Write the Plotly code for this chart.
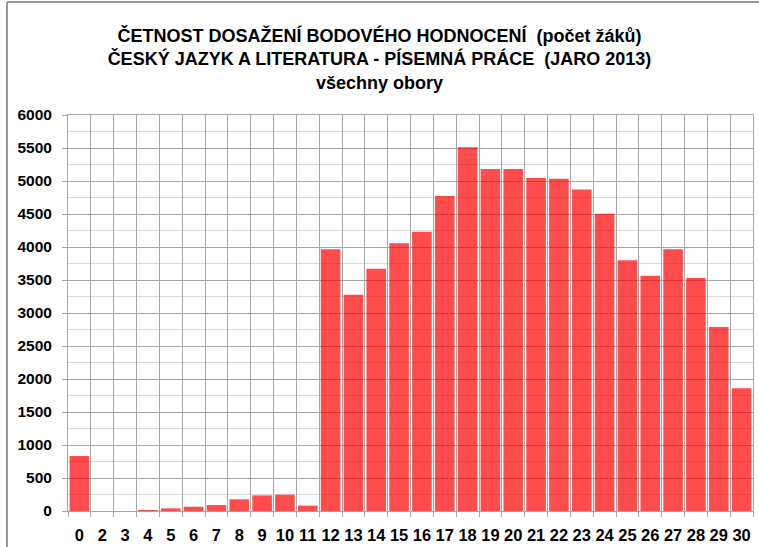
import plotly.graph_objects as go

# Score categories (score 1 is not listed) and number of pupils for each
scores = ["0", "2", "3", "4", "5", "6", "7", "8", "9", "10", "11", "12", "13", "14", "15",
          "16", "17", "18", "19", "20", "21", "22", "23", "24", "25", "26", "27", "28", "29", "30"]
pupils = [833, 0, 0, 15, 40, 65, 90, 177, 237, 247, 81, 3965, 3278, 3672, 4055,
          4232, 4773, 5510, 5182, 5182, 5045, 5035, 4873, 4505, 3798, 3566, 3965, 3530, 2788, 1859]

y_ticks = list(range(0, 6001, 500))

title_lines = [
    "ČETNOST DOSAŽENÍ BODOVÉHO HODNOCENÍ  (počet žáků)",
    "ČESKÝ JAZYK A LITERATURA - PÍSEMNÁ PRÁCE  (JARO 2013)",
    "všechny obory",
]

FONT = "Liberation Sans, Arial, sans-serif"

W, H = 759, 547
L, R, T, B = 68, 6, 115, 36
pw, ph = W - L - R, H - T - B

fig = go.Figure(
    go.Bar(
        x=scores,
        y=pupils,
        marker=dict(color="rgb(255,0,0)", opacity=0.7, line=dict(width=0)),
        hoverinfo="x+y",
    )
)

# outer chart frame (left and top edges)
def px_x(v):
    return (v - L) / pw

def px_y(v):
    return (H - B - v) / ph

frame = dict(color="#9a9a9a", width=2)
fig.add_shape(type="line", xref="paper", yref="paper",
              x0=px_x(7), x1=px_x(7), y0=px_y(2), y1=px_y(560), line=frame)
fig.add_shape(type="line", xref="paper", yref="paper",
              x0=px_x(7), x1=px_x(770), y0=px_y(2), y1=px_y(2), line=frame)

fig.update_layout(
    width=W,
    height=H,
    margin=dict(l=L, r=R, t=T, b=B, autoexpand=False),
    paper_bgcolor="white",
    plot_bgcolor="white",
    showlegend=False,
    bargap=0.14,
    font=dict(family=FONT, color="black"),
    title=dict(
        text="<b>" + "<br>".join(title_lines) + "</b>",
        x=0.5,
        xanchor="center",
        xref="container",
        yref="container",
        y=1 - 42 / H,
        yanchor="top",
        font=dict(size=18, family=FONT, color="black"),
    ),
    xaxis=dict(
        type="category",
        tickson="boundaries",
        tickvals=scores,
        ticktext=["<b>" + s + "</b>" for s in scores],
        tickangle=0,
        showgrid=True,
        gridcolor="#a6a6a6",
        gridwidth=1,
        ticks="outside",
        ticklen=5,
        tickcolor="#a6a6a6",
        showline=True,
        linecolor="#a6a6a6",
        ticklabelstandoff=9,
        tickfont=dict(size=16.5, family=FONT, color="black"),
        fixedrange=True,
        mirror=True,
    ),
    yaxis=dict(
        range=[0, 6000],
        tickvals=y_ticks,
        ticktext=["<b>" + str(v) + "</b>" for v in y_ticks],
        showgrid=True,
        gridcolor="#a6a6a6",
        gridwidth=1,
        minor=dict(dtick=250, showgrid=True, gridcolor="#d9d9d9", gridwidth=1),
        ticks="outside",
        ticklen=5,
        tickcolor="#a6a6a6",
        showline=True,
        linecolor="#a6a6a6",
        zeroline=False,
        ticklabelstandoff=7,
        tickfont=dict(size=15.5, family=FONT, color="black"),
        fixedrange=True,
        mirror=True,
    ),
)

fig.write_html("out.html")
